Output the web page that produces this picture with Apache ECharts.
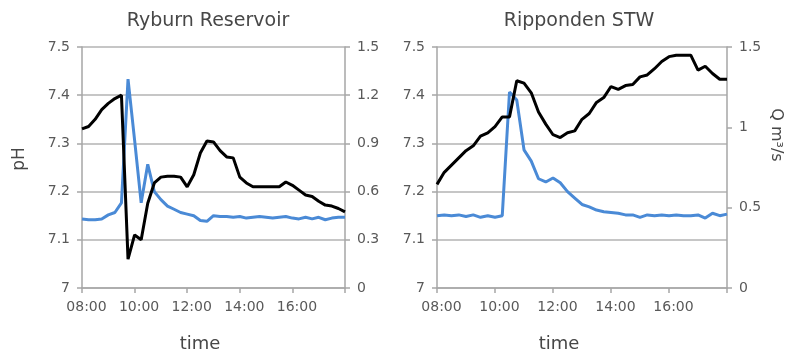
<!DOCTYPE html>
<html><head><meta charset="utf-8">
<script src="https://cdn.jsdelivr.net/npm/echarts@6/dist/echarts.min.js"></script>
<style>html,body{margin:0;padding:0;background:#fff}#c{width:789px;height:356px}</style>
</head><body><div id="c"></div>
<script>
const times = ['08:00','08:15','08:30','08:45','09:00','09:15','09:30','09:45','10:00','10:15','10:30','10:45',
  '11:00','11:15','11:30','11:45','12:00','12:15','12:30','12:45','13:00','13:15','13:30','13:45',
  '14:00','14:15','14:30','14:45','15:00','15:15','15:30','15:45','16:00','16:15','16:30','16:45',
  '17:00','17:15','17:30','17:45','18:00'];
const ryburnPH = [7.33,7.335,7.35,7.37,7.383,7.393,7.40,7.06,7.11,7.10,7.176,7.218,7.23,7.232,7.232,7.23,7.21,7.235,7.28,7.305,
  7.303,7.285,7.272,7.27,7.23,7.218,7.21,7.21,7.21,7.21,7.21,7.22,7.213,7.203,7.193,7.19,7.18,7.172,7.17,7.165,7.158];
const ryburnQ = [0.43,0.425,0.425,0.43,0.455,0.47,0.53,1.30,0.92,0.53,0.77,0.60,0.55,0.51,0.49,0.47,0.46,0.45,0.42,0.415,
  0.45,0.445,0.445,0.44,0.445,0.435,0.44,0.445,0.44,0.435,0.44,0.445,0.435,0.43,0.44,0.43,0.44,0.425,0.435,0.44,0.44];
const rippPH = [7.215,7.24,7.255,7.27,7.285,7.295,7.315,7.322,7.335,7.355,7.355,7.43,7.425,7.405,7.365,7.34,7.318,7.312,7.322,7.326,
  7.35,7.362,7.385,7.395,7.418,7.412,7.42,7.422,7.438,7.442,7.455,7.47,7.48,7.483,7.483,7.483,7.452,7.46,7.445,7.433,7.433];
const rippQ = [0.45,0.455,0.45,0.455,0.445,0.455,0.44,0.45,0.44,0.45,1.22,1.17,0.86,0.79,0.68,0.66,0.685,0.655,0.60,0.56,
  0.52,0.505,0.485,0.475,0.47,0.465,0.455,0.455,0.44,0.455,0.45,0.455,0.45,0.455,0.45,0.45,0.455,0.435,0.465,0.45,0.46];
const panelTitles = ['Ryburn Reservoir','Ripponden STW'];
const xName = 'time';
const leftName = 'pH';
const rightName = 'Q m\u00B3/s';

const FONT = "'DejaVu Sans', sans-serif";
const AXC = '#a6a6a6';
const TXT = '#595959';
const chart = echarts.init(document.getElementById('c'), null, {renderer:'canvas'});

function xAxisFor(g){
  return {
    type:'category', gridIndex:g, data:times, boundaryGap:false,
    axisLine:{show:true, lineStyle:{color:AXC, width:1.5}},
    axisTick:{show:true, length:5, interval:(i)=> i%8===0, lineStyle:{color:AXC, width:1.5}},
    axisLabel:{interval:(i)=> i%8===0 && i<40, color:TXT, fontSize:14, fontFamily:FONT, margin:12, padding:[0,0,0,9]},
    splitLine:{show:false}
  };
}
function yAxisFor(g, pos, min, max, step, grid){
  return {
    type:'value', gridIndex:g, position:pos, min:min, max:max, interval:step,
    axisLine:{show:true, lineStyle:{color:AXC, width:1.5}},
    axisTick:{show:true, length:5, lineStyle:{color:AXC, width:1.5}},
    axisLabel:{color:TXT, fontSize:14, fontFamily:FONT, margin:12},
    splitLine:{show:grid, lineStyle:{color:'#b3b3b3', width:1.5}}
  };
}
function txt(text, x, y, size, rot){
  return {type:'text', x:x, y:y, rotation:rot||0, z:10,
    style:{text:text, fill:'#474747', font:size+'px '+FONT, align:'center', verticalAlign:'middle'}};
}

chart.setOption({
  backgroundColor:'#fff',
  animation:false,
  grid:[{left:82, top:47, width:263, height:241},{left:437, top:47, width:290, height:241}],
  xAxis:[xAxisFor(0), xAxisFor(1)],
  yAxis:[yAxisFor(0,'left',7,7.5,0.1,true), yAxisFor(0,'right',0,1.5,0.3,false),
         yAxisFor(1,'left',7,7.5,0.1,true), yAxisFor(1,'right',0,1.5,0.5,false)],
  series:[
    {type:'line', xAxisIndex:0, yAxisIndex:1, data:ryburnQ, symbol:'none', lineStyle:{color:'#4a8ad6', width:3}},
    {type:'line', xAxisIndex:0, yAxisIndex:0, data:ryburnPH, symbol:'none', lineStyle:{color:'#000', width:3}},
    {type:'line', xAxisIndex:1, yAxisIndex:3, data:rippQ, symbol:'none', lineStyle:{color:'#4a8ad6', width:3}},
    {type:'line', xAxisIndex:1, yAxisIndex:2, data:rippPH, symbol:'none', lineStyle:{color:'#000', width:3}}
  ],
  graphic:[
    txt(panelTitles[0], 208, 21, 19),
    txt(panelTitles[1], 579, 21, 19),
    txt(xName, 200, 344, 18),
    txt(xName, 559, 344, 18),
    txt(leftName, 20, 159, 17, Math.PI/2),
    txt(rightName, 776, 135, 16, -Math.PI/2)
  ]
});
</script>
</body></html>
